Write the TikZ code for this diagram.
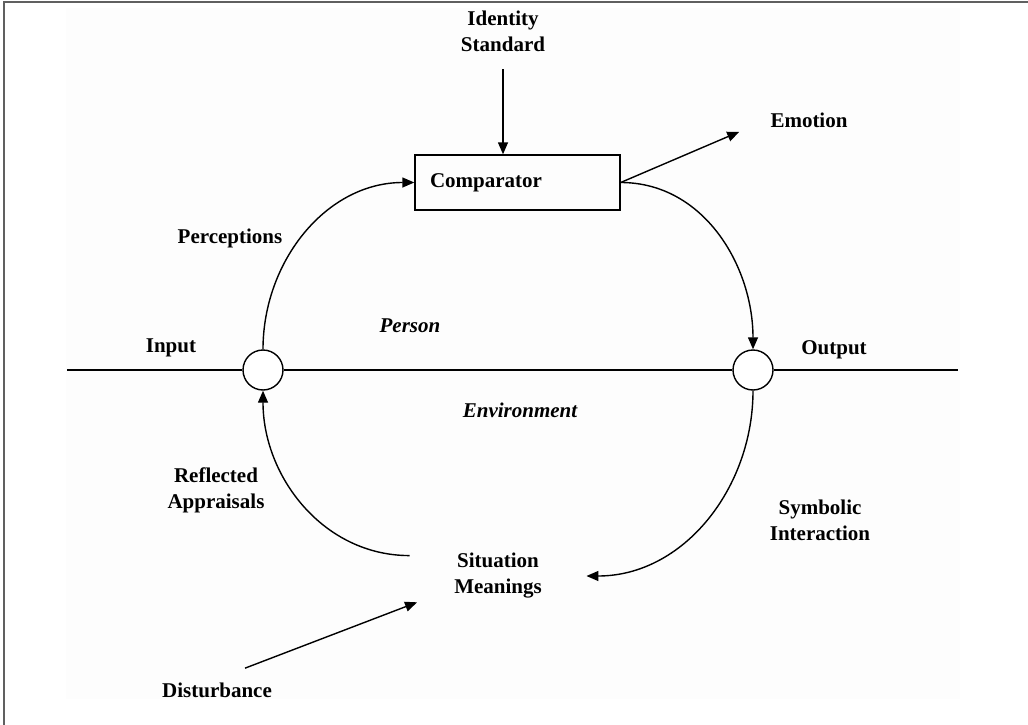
\documentclass[tikz,border=0pt]{standalone}
\usepackage{fontspec}
\setmainfont{Liberation Serif}
\usetikzlibrary{arrows.meta,positioning,calc}
\definecolor{framegray}{RGB}{96,96,96}

\begin{document}
\begin{tikzpicture}[x=1pt, y=-1pt, line width=1.4pt,
  lbl/.style={font=\fontsize{21}{26}\selectfont\bfseries, align=center, inner sep=3pt},
  box/.style={draw, minimum height=55pt, text width=175pt, inner xsep=15pt, align=left, font=\fontsize{21}{25}\selectfont\bfseries},
  junc/.style={draw, circle, fill=white, minimum size=40pt, inner sep=0pt},
  arr/.style={-{Triangle[length=12pt,width=10pt]}}]
\useasboundingbox (0,0) rectangle (1028,725);
\fill[gray!1.5] (66,8) rectangle (960,699);
\draw[framegray, line width=2pt] (4,725) -- (4,2) -- (1028,2);
% comparator loop
\node[lbl] (ids) at (503,31) {Identity\\Standard};
\node[box] (cmp) at (517.5,182.5) {Comparator};
\node[lbl] (emo) at (809,120) {Emotion};
\node[junc] (inp) at (263,370) {};
\node[junc] (out) at (753,370) {};
\coordinate (lend) at (67,370);
\coordinate (rend) at (958,370);
\node[lbl, inner xsep=44pt] (sit) at (498,576) {Situation\\Meanings};
\node[lbl] (dst) at (217,690) {Disturbance};
% labels
\node[lbl] (per) at (230,238) {Perceptions};
\node[lbl] (in) at (171,348) {Input};
\node[lbl] (op) at (834,350) {Output};
\node[lbl, font=\fontsize{21}{25}\selectfont\bfseries\itshape] (prs) at (410,326) {Person};
\node[lbl, font=\fontsize{21}{25}\selectfont\bfseries\itshape] (env) at (520,410) {Environment};
\node[lbl] (rap) at (216,490) {Reflected\\Appraisals};
\node[lbl] (sym) at (820,520) {Symbolic\\Interaction};
% connectors
\draw[arr, shorten <=14pt] (ids.south) -- (ids.south |- cmp.north);
\draw[arr, shorten >=30pt] (cmp.east) -- (emo.west);
\draw[arr] (inp.north) to[out=90, in=180] (cmp.west);
\draw[arr] (cmp.east) to[out=0, in=90] (out.north);
\draw (lend) -- (inp.west); \draw (inp.east) -- (out.west); \draw (out.east) -- (rend);
\draw[arr] (out.south) to[out=270, in=0] (sit.east);
\draw[arr] (sit.167) to[out=180, in=270] (inp.south);
\draw[arr, shorten <=30pt] (dst.north) -- (sit.198);
\end{tikzpicture}
\end{document}
